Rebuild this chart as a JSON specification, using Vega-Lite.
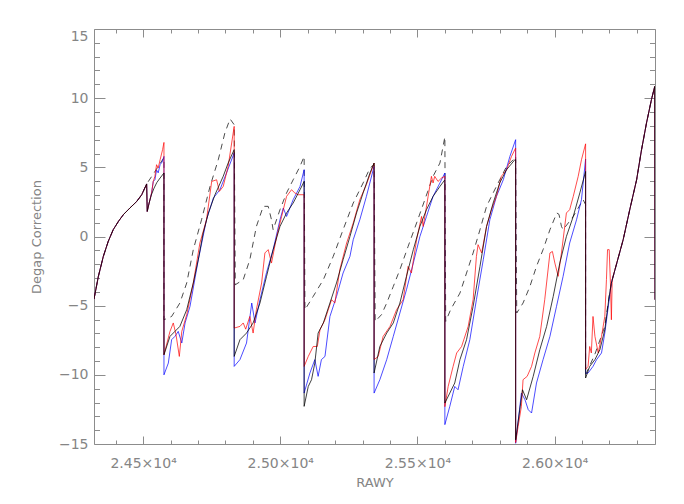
{
  "$schema": "https://vega.github.io/schema/vega-lite/v6.json",
  "width": 561,
  "height": 415,
  "autosize": {"type": "none"},
  "padding": {"left": 94, "top": 29, "right": 29, "bottom": 60},
  "background": "white",
  "config": {
    "view": {"stroke": "#8c8c8c", "strokeWidth": 1},
    "font": "DejaVu Sans",
    "axis": {
      "domain": false,
      "grid": false,
      "tickColor": "#8c8c8c",
      "tickWidth": 1,
      "labelColor": "#858585",
      "titleColor": "#858585",
      "labelFont": "DejaVu Sans",
      "titleFont": "DejaVu Sans",
      "labelFontSize": 14,
      "titleFontSize": 13,
      "titleFontWeight": "normal",
      "labelOverlap": false,
      "labelFlush": false
    }
  },
  "datasets": {
    "dashed": [
      {"x":24321,"y":-4.52},{"x":24337,"y":-2.88},{"x":24355,"y":-1.44},{"x":24373,"y":-0.35},{"x":24391,"y":0.49},{"x":24410,"y":1.09},{"x":24428,"y":1.58},{"x":24452,"y":2.06},{"x":24477,"y":2.54},{"x":24495,"y":3.02},{"x":24513,"y":3.8},{"x":24540,"y":4.6},{"x":24576,"y":5.7},
      {"x":24576,"y":-6.02},{"x":24604,"y":-5.78},{"x":24634,"y":-4.81},{"x":24659,"y":-3.36},{"x":24683,"y":-0.95},{"x":24713,"y":1.21},{"x":24744,"y":3.62},{"x":24774,"y":5.55},{"x":24798,"y":7.48},{"x":24817,"y":8.5},{"x":24832,"y":8.08},
      {"x":24836,"y":-3.49},{"x":24865,"y":-3.12},{"x":24889,"y":-1.68},{"x":24913,"y":0.73},{"x":24938,"y":2.18},{"x":24956,"y":2.18},{"x":24968,"y":1.21},{"x":24974,"y":0.49},{"x":24999,"y":1.94},{"x":25023,"y":3.15},{"x":25047,"y":4.1},{"x":25072,"y":5.07},{"x":25087,"y":5.79},
      {"x":25090,"y":-5.29},{"x":25120,"y":-4.33},{"x":25157,"y":-3.12},{"x":25193,"y":-1.44},{"x":25229,"y":0.49},{"x":25266,"y":2.42},{"x":25302,"y":3.87},{"x":25327,"y":4.95},{"x":25342,"y":5.2},
      {"x":25346,"y":-6.14},{"x":25369,"y":-5.65},{"x":25388,"y":-4.81},{"x":25412,"y":-3.61},{"x":25436,"y":-2.4},{"x":25466,"y":-0.72},{"x":25497,"y":0.98},{"x":25527,"y":2.66},{"x":25557,"y":4.35},{"x":25582,"y":5.31},{"x":25600,"y":7.2},
      {"x":25603,"y":-6.14},{"x":25621,"y":-5.29},{"x":25655,"y":-4.09},{"x":25679,"y":-2.64},{"x":25703,"y":-1.19},{"x":25728,"y":0.49},{"x":25752,"y":2.18},{"x":25776,"y":3.15},{"x":25800,"y":4.1},{"x":25825,"y":5.07},{"x":25849,"y":5.55},{"x":25858,"y":5.8},
      {"x":25862,"y":-5.53},{"x":25885,"y":-4.81},{"x":25910,"y":-3.61},{"x":25934,"y":-2.16},{"x":25958,"y":-0.95},{"x":25983,"y":0.49},{"x":26008,"y":1.7},{"x":26016,"y":1.6},{"x":26025,"y":0.73},{"x":26031,"y":0.49},{"x":26068,"y":1.45},{"x":26104,"y":2.66},{"x":26113,"y":2.3},
      {"x":26113,"y":-10.0},{"x":26147,"y":-8.5},{"x":26183,"y":-6.5},{"x":26199,"y":-4.3},{"x":26207,"y":-3.36},{"x":26250,"y":-0.23},{"x":26274,"y":1.94},{"x":26299,"y":4.1},{"x":26317,"y":6.28},{"x":26335,"y":8.2},{"x":26353,"y":9.89},{"x":26365,"y":10.85}
    ],
    "blue": [
      {"x":24321,"y":-4.52},{"x":24337,"y":-2.88},{"x":24355,"y":-1.44},{"x":24373,"y":-0.35},{"x":24391,"y":0.49},{"x":24410,"y":1.09},{"x":24428,"y":1.58},{"x":24452,"y":2.06},{"x":24477,"y":2.54},{"x":24495,"y":3.02},{"x":24513,"y":3.8},
      {"x":24515,"y":1.81},{"x":24522,"y":2.42},{"x":24531,"y":3.15},{"x":24537,"y":3.98},{"x":24543,"y":4.1},{"x":24549,"y":4.8},{"x":24555,"y":4.6},{"x":24562,"y":5.2},{"x":24570,"y":5.4},{"x":24576,"y":5.79},
      {"x":24576,"y":-10.0},{"x":24592,"y":-9.15},{"x":24604,"y":-7.46},{"x":24616,"y":-7.22},{"x":24628,"y":-6.86},{"x":24641,"y":-7.7},{"x":24653,"y":-6.25},{"x":24671,"y":-5.05},{"x":24701,"y":-1.7},{"x":24731,"y":1.21},{"x":24756,"y":2.78},{"x":24780,"y":3.38},{"x":24804,"y":4.59},{"x":24832,"y":6.04},
      {"x":24832,"y":-9.39},{"x":24853,"y":-8.9},{"x":24877,"y":-7.7},{"x":24896,"y":-4.81},{"x":24908,"y":-6.25},{"x":24926,"y":-4.57},{"x":24950,"y":-2.6},{"x":24974,"y":-0.95},{"x":24999,"y":1.21},{"x":25011,"y":2.06},{"x":25023,"y":1.45},{"x":25047,"y":2.66},{"x":25072,"y":3.62},{"x":25087,"y":4.83},
      {"x":25087,"y":-11.32},{"x":25108,"y":-9.87},{"x":25126,"y":-8.9},{"x":25138,"y":-10.11},{"x":25150,"y":-8.9},{"x":25163,"y":-8.67},{"x":25181,"y":-5.78},{"x":25205,"y":-4.33},{"x":25229,"y":-2.64},{"x":25254,"y":-1.44},{"x":25266,"y":-0.23},{"x":25290,"y":1.21},{"x":25314,"y":2.9},{"x":25342,"y":5.07},
      {"x":25342,"y":-11.32},{"x":25363,"y":-10.35},{"x":25388,"y":-8.9},{"x":25412,"y":-7.22},{"x":25436,"y":-5.53},{"x":25460,"y":-3.85},{"x":25485,"y":-1.92},{"x":25509,"y":0.0},{"x":25533,"y":1.45},{"x":25557,"y":2.9},{"x":25582,"y":3.87},{"x":25600,"y":4.59},
      {"x":25600,"y":-13.6},{"x":25618,"y":-12.28},{"x":25636,"y":-10.84},{"x":25648,"y":-11.08},{"x":25667,"y":-9.39},{"x":25691,"y":-7.46},{"x":25715,"y":-4.57},{"x":25740,"y":-1.68},{"x":25764,"y":1.21},{"x":25788,"y":2.9},{"x":25813,"y":4.1},{"x":25837,"y":5.79},{"x":25858,"y":7.0},
      {"x":25858,"y":-14.95},{"x":25879,"y":-11.32},{"x":25892,"y":-11.8},{"x":25904,"y":-12.52},{"x":25916,"y":-12.76},{"x":25934,"y":-10.59},{"x":25958,"y":-8.9},{"x":25983,"y":-7.22},{"x":26007,"y":-5.05},{"x":26031,"y":-2.88},{"x":26055,"y":-0.47},{"x":26080,"y":1.21},{"x":26098,"y":2.66},{"x":26113,"y":5.6},
      {"x":26113,"y":-9.9},{"x":26122,"y":-9.87},{"x":26140,"y":-9.39},{"x":26153,"y":-8.9},{"x":26171,"y":-8.42},{"x":26183,"y":-6.98},{"x":26199,"y":-4.57},{"x":26207,"y":-3.36},{"x":26250,"y":-0.23},{"x":26274,"y":1.94},{"x":26299,"y":4.1},{"x":26317,"y":6.28},{"x":26335,"y":8.2},{"x":26353,"y":9.89},{"x":26365,"y":10.85},{"x":26366,"y":-4.57}
    ],
    "red": [
      {"x":24321,"y":-4.52},{"x":24337,"y":-2.88},{"x":24355,"y":-1.44},{"x":24373,"y":-0.35},{"x":24391,"y":0.49},{"x":24410,"y":1.09},{"x":24428,"y":1.58},{"x":24452,"y":2.06},{"x":24477,"y":2.54},{"x":24495,"y":3.02},{"x":24513,"y":3.8},
      {"x":24515,"y":1.81},{"x":24522,"y":2.42},{"x":24531,"y":3.15},{"x":24537,"y":3.98},{"x":24543,"y":4.35},{"x":24549,"y":5.19},{"x":24555,"y":4.95},{"x":24562,"y":5.55},{"x":24571,"y":6.28},{"x":24576,"y":6.8},
      {"x":24576,"y":-8.55},{"x":24598,"y":-6.86},{"x":24610,"y":-6.25},{"x":24620,"y":-7.1},{"x":24632,"y":-8.67},{"x":24641,"y":-6.86},{"x":24659,"y":-5.65},{"x":24683,"y":-3.36},{"x":24707,"y":-0.47},{"x":24731,"y":1.2},{"x":24750,"y":3.98},{"x":24768,"y":4.1},{"x":24778,"y":3.26},{"x":24792,"y":3.62},{"x":24810,"y":5.07},{"x":24832,"y":7.96},
      {"x":24832,"y":-6.62},{"x":24853,"y":-6.5},{"x":24865,"y":-6.25},{"x":24874,"y":-6.7},{"x":24889,"y":-5.78},{"x":24901,"y":-6.98},{"x":24913,"y":-5.29},{"x":24932,"y":-3.36},{"x":24944,"y":-1.19},{"x":24956,"y":-0.95},{"x":24968,"y":-1.92},{"x":24987,"y":0.0},{"x":25005,"y":1.45},{"x":25023,"y":2.9},{"x":25041,"y":3.38},{"x":25053,"y":3.15},{"x":25065,"y":3.02},{"x":25087,"y":3.02},
      {"x":25087,"y":-9.39},{"x":25102,"y":-8.67},{"x":25120,"y":-7.95},{"x":25135,"y":-7.95},{"x":25145,"y":-6.74},{"x":25163,"y":-6.02},{"x":25187,"y":-4.57},{"x":25199,"y":-4.81},{"x":25217,"y":-2.4},{"x":25242,"y":-0.47},{"x":25266,"y":0.98},{"x":25290,"y":2.66},{"x":25314,"y":3.75},{"x":25342,"y":5.31},
      {"x":25342,"y":-8.9},{"x":25357,"y":-8.67},{"x":25375,"y":-7.22},{"x":25400,"y":-6.5},{"x":25424,"y":-5.29},{"x":25448,"y":-4.57},{"x":25466,"y":-2.16},{"x":25478,"y":-2.64},{"x":25497,"y":-0.23},{"x":25515,"y":1.45},{"x":25521,"y":0.73},{"x":25539,"y":2.9},{"x":25551,"y":4.35},{"x":25557,"y":3.87},{"x":25563,"y":4.35},{"x":25575,"y":3.98},{"x":25588,"y":4.23},{"x":25600,"y":4.35},
      {"x":25600,"y":-12.3},{"x":25612,"y":-10.84},{"x":25630,"y":-9.39},{"x":25643,"y":-8.42},{"x":25661,"y":-7.95},{"x":25685,"y":-6.5},{"x":25703,"y":-4.57},{"x":25715,"y":-1.44},{"x":25721,"y":-0.59},{"x":25734,"y":-1.19},{"x":25752,"y":0.73},{"x":25770,"y":1.94},{"x":25788,"y":2.9},{"x":25806,"y":4.35},{"x":25825,"y":4.83},{"x":25843,"y":5.79},{"x":25858,"y":6.4},
      {"x":25858,"y":-14.9},{"x":25867,"y":-13.73},{"x":25879,"y":-12.28},{"x":25885,"y":-10.35},{"x":25900,"y":-10.11},{"x":25916,"y":-9.39},{"x":25928,"y":-8.42},{"x":25946,"y":-7.22},{"x":25964,"y":-4.57},{"x":25983,"y":-1.19},{"x":25992,"y":-1.08},{"x":26001,"y":-1.92},{"x":26013,"y":-2.88},{"x":26025,"y":-1.19},{"x":26043,"y":1.7},{"x":26055,"y":1.94},{"x":26068,"y":2.9},{"x":26086,"y":4.35},{"x":26098,"y":5.55},{"x":26113,"y":6.7},
      {"x":26113,"y":-9.6},{"x":26122,"y":-9.39},{"x":26128,"y":-7.95},{"x":26134,"y":-8.42},{"x":26140,"y":-5.78},{"x":26147,"y":-7.22},{"x":26159,"y":-8.42},{"x":26171,"y":-7.22},{"x":26183,"y":-5.78},{"x":26189,"y":-3.12},{"x":26193,"y":-0.95},{"x":26199,"y":-0.95},{"x":26204,"y":-3.61},{"x":26207,"y":-6.02},{"x":26210,"y":-3.1},{"x":26250,"y":-0.23},{"x":26274,"y":1.94},{"x":26299,"y":4.1},{"x":26317,"y":6.28},{"x":26335,"y":8.2},{"x":26353,"y":9.89},{"x":26365,"y":10.85},{"x":26366,"y":-4.57}
    ],
    "black": [
      {"x":24321,"y":-4.52},{"x":24337,"y":-2.88},{"x":24355,"y":-1.44},{"x":24373,"y":-0.35},{"x":24391,"y":0.49},{"x":24410,"y":1.09},{"x":24428,"y":1.58},{"x":24452,"y":2.06},{"x":24477,"y":2.54},{"x":24495,"y":3.02},{"x":24513,"y":3.8},
      {"x":24515,"y":1.81},{"x":24522,"y":2.42},{"x":24530,"y":3.0},{"x":24540,"y":3.5},{"x":24550,"y":3.9},{"x":24562,"y":4.23},{"x":24576,"y":4.59},
      {"x":24576,"y":-8.55},{"x":24598,"y":-7.22},{"x":24616,"y":-6.86},{"x":24634,"y":-6.5},{"x":24659,"y":-5.29},{"x":24683,"y":-3.36},{"x":24701,"y":-1.68},{"x":24719,"y":0.25},{"x":24738,"y":1.7},{"x":24762,"y":3.02},{"x":24792,"y":4.35},{"x":24810,"y":5.31},{"x":24832,"y":6.28},
      {"x":24832,"y":-8.67},{"x":24853,"y":-7.46},{"x":24877,"y":-6.98},{"x":24901,"y":-6.25},{"x":24926,"y":-4.81},{"x":24950,"y":-2.88},{"x":24974,"y":-0.95},{"x":24999,"y":0.73},{"x":25023,"y":1.7},{"x":25047,"y":2.42},{"x":25072,"y":3.38},{"x":25087,"y":3.98},
      {"x":25087,"y":-12.28},{"x":25102,"y":-10.84},{"x":25114,"y":-10.35},{"x":25126,"y":-9.15},{"x":25138,"y":-6.98},{"x":25157,"y":-6.25},{"x":25181,"y":-4.81},{"x":25205,"y":-3.36},{"x":25229,"y":-1.68},{"x":25254,"y":0.0},{"x":25278,"y":1.7},{"x":25302,"y":3.15},{"x":25327,"y":4.59},{"x":25342,"y":5.31},
      {"x":25342,"y":-9.87},{"x":25363,"y":-7.95},{"x":25388,"y":-6.98},{"x":25412,"y":-6.25},{"x":25436,"y":-4.81},{"x":25460,"y":-2.88},{"x":25485,"y":-0.95},{"x":25509,"y":0.73},{"x":25533,"y":1.94},{"x":25557,"y":2.9},{"x":25582,"y":3.62},{"x":25600,"y":4.1},
      {"x":25600,"y":-12.04},{"x":25618,"y":-11.32},{"x":25636,"y":-10.59},{"x":25655,"y":-8.9},{"x":25679,"y":-7.46},{"x":25703,"y":-5.05},{"x":25728,"y":-2.16},{"x":25752,"y":0.73},{"x":25776,"y":2.42},{"x":25800,"y":3.87},{"x":25825,"y":4.83},{"x":25855,"y":5.55},{"x":25858,"y":5.55},
      {"x":25858,"y":-14.7},{"x":25873,"y":-12.52},{"x":25883,"y":-11.08},{"x":25898,"y":-11.8},{"x":25922,"y":-10.11},{"x":25946,"y":-8.19},{"x":25971,"y":-6.5},{"x":25995,"y":-4.33},{"x":26019,"y":-1.92},{"x":26043,"y":0.0},{"x":26068,"y":1.45},{"x":26092,"y":3.15},{"x":26113,"y":4.7},
      {"x":26113,"y":-10.23},{"x":26128,"y":-9.39},{"x":26147,"y":-8.9},{"x":26165,"y":-8.19},{"x":26183,"y":-6.74},{"x":26199,"y":-4.33},{"x":26207,"y":-3.36},{"x":26250,"y":-0.23},{"x":26274,"y":1.94},{"x":26299,"y":4.1},{"x":26317,"y":6.28},{"x":26335,"y":8.2},{"x":26353,"y":9.89},{"x":26365,"y":10.85},{"x":26366,"y":-4.57}
    ]
  },
  "layer": [
    {
      "data": {"name": "dashed"},
      "mark": {"type": "line", "stroke": "#000000", "strokeWidth": 1, "opacity": 0.7, "strokeDash": [6, 5], "clip": true},
      "encoding": {
        "x": {"field": "x", "type": "quantitative", "scale": {"domain": [24321, 26366], "nice": false, "zero": false},
          "axis": {"orient": "bottom", "values": [24500, 25000, 25500, 26000], "tickSize": -8, "labelPadding": 31, "labelBaseline": "alphabetic",
            "labelExpr": "format(datum.value / 10000, '.2f') + '×10⁴'",
            "title": "RAWY", "titleBaseline": "alphabetic", "titleY": 42}},
        "y": {"field": "y", "type": "quantitative", "scale": {"domain": [-15, 15], "nice": false, "zero": false},
          "axis": {"orient": "left", "values": [-15, -10, -5, 0, 5, 10, 15], "tickSize": -11, "labelPadding": 17, "format": "d",
            "labelBaseline": {"condition": {"test": "datum.value == 15", "value": "top"}, "value": "middle"},
            "title": "Degap Correction", "titleX": -51, "titleBaseline": "bottom"}}
      }
    },
    {
      "data": {"name": "blue"},
      "mark": {"type": "line", "stroke": "#0000ff", "strokeWidth": 1, "opacity": 0.7, "clip": true},
      "encoding": {
        "x": {"field": "x", "type": "quantitative", "scale": {"domain": [24321, 26366], "nice": false, "zero": false},
          "axis": {"orient": "bottom", "values": [24400, 24600, 24700, 24800, 24900, 25100, 25200, 25300, 25400, 25600, 25700, 25800, 25900, 26100, 26200, 26300], "tickSize": -4, "labels": false, "title": null}},
        "y": {"field": "y", "type": "quantitative", "scale": {"domain": [-15, 15], "nice": false, "zero": false},
          "axis": {"orient": "left", "values": [-14, -13, -12, -11, -9, -8, -7, -6, -4, -3, -2, -1, 1, 2, 3, 4, 6, 7, 8, 9, 11, 12, 13, 14], "tickSize": -5.5, "labels": false, "title": null}}
      }
    },
    {
      "data": {"name": "red"},
      "mark": {"type": "line", "stroke": "#ff0000", "strokeWidth": 1, "opacity": 0.7, "clip": true},
      "encoding": {
        "x": {"field": "x", "type": "quantitative", "scale": {"domain": [24321, 26366], "nice": false, "zero": false},
          "axis": {"orient": "top", "values": [24500, 25000, 25500, 26000], "tickSize": -8, "labels": false, "title": null}},
        "y": {"field": "y", "type": "quantitative", "scale": {"domain": [-15, 15], "nice": false, "zero": false},
          "axis": {"orient": "right", "values": [-15, -10, -5, 0, 5, 10, 15], "tickSize": -11, "labels": false, "title": null}}
      }
    },
    {
      "data": {"name": "black"},
      "mark": {"type": "line", "stroke": "#000000", "strokeWidth": 1, "opacity": 0.75, "clip": true},
      "encoding": {
        "x": {"field": "x", "type": "quantitative", "scale": {"domain": [24321, 26366], "nice": false, "zero": false},
          "axis": {"orient": "top", "values": [24400, 24600, 24700, 24800, 24900, 25100, 25200, 25300, 25400, 25600, 25700, 25800, 25900, 26100, 26200, 26300], "tickSize": -4, "labels": false, "title": null}},
        "y": {"field": "y", "type": "quantitative", "scale": {"domain": [-15, 15], "nice": false, "zero": false},
          "axis": {"orient": "right", "values": [-14, -13, -12, -11, -9, -8, -7, -6, -4, -3, -2, -1, 1, 2, 3, 4, 6, 7, 8, 9, 11, 12, 13, 14], "tickSize": -5.5, "labels": false, "title": null}}
      }
    }
  ],
  "resolve": {"axis": {"x": "independent", "y": "independent"}}
}
